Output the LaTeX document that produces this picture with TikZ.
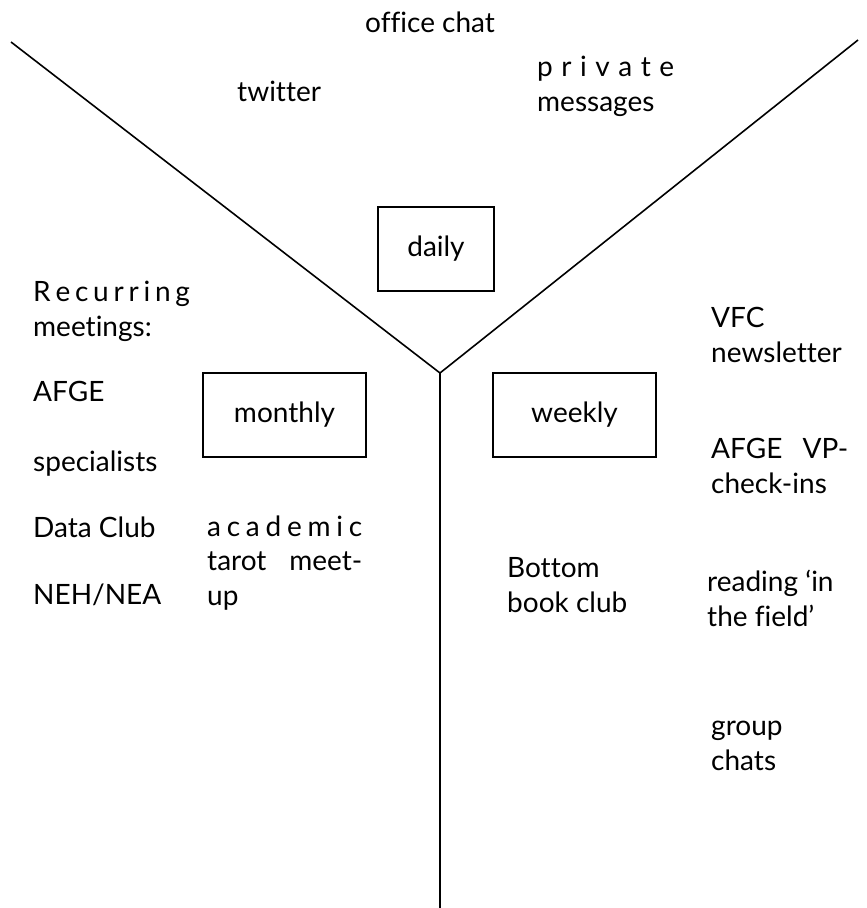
\documentclass[tikz,border=0pt]{standalone}
\usepackage{fontspec}
\setmainfont{Lato}[Ligatures={NoCommon}]
\begin{document}
\begin{tikzpicture}[x=1pt,y=-1pt,
  every node/.style={font=\fontsize{28}{34.5}\selectfont},
  txt/.style={anchor=base west, align=left, inner sep=0pt},
  period/.style={draw, line width=1.6pt, minimum height=84pt, inner sep=0pt}]
\useasboundingbox (0,0) rectangle (867,908);
% the Y
\coordinate (topleft) at (11,42);
\coordinate (topright) at (858,40);
\coordinate (fork) at (440,373);
\coordinate (foot) at (440,908);
\draw[line width=1.6pt] (topleft) -- (fork) -- (topright);
\draw[line width=1.8pt] (fork) -- (foot);
% boxes
\node[period, minimum width=116pt] (daily) at (436,249) {daily};
\node[period, minimum width=163pt] (monthly) at (284.5,415) {monthly};
\node[period, minimum width=163pt] (weekly) at (574.5,415) {weekly};
% daily (base = last line)
\node[txt] (office) at (365,32) {office chat};
\node[txt] (twitter) at (237,101) {twitter};
\node[txt] (private) at (537,111) {\makebox[137pt][s]{p r i v a t e}\\messages};
% monthly
\node[txt] (recurring) at (33,336) {\makebox[153pt][s]{R e c u r r i n g}\\meetings:};
\node[txt] (afge) at (33,401) {AFGE};
\node[txt] (specialists) at (33,471) {specialists};
\node[txt] (dataclub) at (33,537) {Data Club};
\node[txt] (neh) at (33,604) {NEH/NEA};
\node[txt] (tarot) at (207,605) {\makebox[155pt][s]{a c a d e m i c}\\\makebox[155pt][s]{tarot meet-}\\up};
% weekly
\node[txt] (vfc) at (711,362) {VFC\\newsletter};
\node[txt] (afgevp) at (711,493) {\makebox[137pt][s]{AFGE VP-}\\check-ins};
\node[txt] (bottom) at (507,612) {Bottom\\book club};
\node[txt] (reading) at (707,626) {reading ‘in\\the field’};
\node[txt] (group) at (711,770) {group\\chats};
\end{tikzpicture}
\end{document}
